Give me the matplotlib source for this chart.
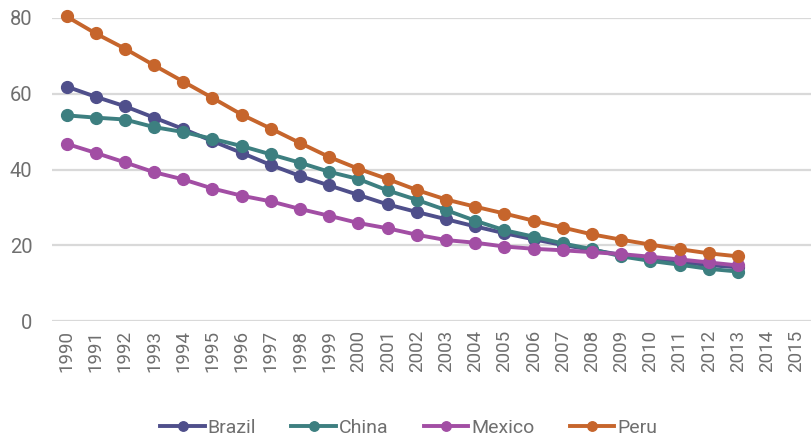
import numpy as np
import matplotlib.pyplot as plt

years = list(range(1990, 2016))
data_years = list(range(1990, 2014))

brazil = [61.9, 59.2, 56.7, 53.7, 50.7, 47.5, 44.4, 41.2, 38.3, 35.8, 33.3, 30.8,
          28.8, 26.9, 25.0, 23.2, 21.6, 20.1, 18.8, 17.5, 16.5, 15.6, 14.8, 14.2]
china = [54.3, 53.7, 53.2, 51.2, 49.9, 48.1, 46.2, 44.0, 41.8, 39.4, 37.5, 34.5,
         32.0, 29.3, 26.5, 24.0, 22.3, 20.5, 19.0, 17.1, 15.9, 14.9, 13.8, 13.1]
mexico = [46.8, 44.4, 41.9, 39.3, 37.4, 35.0, 33.1, 31.6, 29.6, 27.8, 25.9, 24.5,
          22.8, 21.4, 20.7, 19.7, 19.1, 18.7, 18.2, 17.7, 17.0, 16.3, 15.5, 14.7]
peru = [80.4, 75.9, 71.9, 67.5, 63.2, 58.9, 54.5, 50.8, 47.0, 43.3, 40.2, 37.5,
        34.6, 32.1, 30.2, 28.4, 26.5, 24.7, 22.9, 21.5, 20.2, 19.0, 17.9, 17.1]

series = [("Brazil", brazil, "#4f4f8b"),
          ("China", china, "#3d7f80"),
          ("Mexico", mexico, "#a24ea4"),
          ("Peru", peru, "#c6652c")]

plt.rcParams['font.family'] = ['Roboto', 'DejaVu Sans']

fig = plt.figure(figsize=(8.11, 4.37), dpi=100)
ax = fig.add_axes([0.064, 0.265, 0.936, 0.694])

x = np.arange(len(data_years))
for name, vals, col in series:
    ax.plot(x, vals, color=col, lw=2.8, marker='o', ms=8.5, label=name, clip_on=False)

ax.set_xlim(-0.5, len(years) - 0.5)
ax.set_ylim(0, 80)
ax.set_yticks([0, 20, 40, 60, 80])
ax.set_xticks(np.arange(len(years)))
ax.set_xticklabels([str(y) for y in years], rotation=90)
ax.grid(axis='y', color='#d9d9d9', lw=1.6)
ax.set_axisbelow(True)
for s in ax.spines.values():
    s.set_visible(False)
ax.tick_params(length=0, colors='#6f6f6f', labelsize=13.5)
ax.tick_params(axis='y', pad=14, labelsize=14.5)
ax.tick_params(axis='x', pad=6)

ax.legend(loc='upper center', bbox_to_anchor=(0.47, -0.265), ncol=4, frameon=False,
          fontsize=14, labelcolor='#6f6f6f',
          handlelength=2.3, handletextpad=0.15, columnspacing=1.8, markerscale=0.8)

fig.savefig("out.png", dpi=100)
